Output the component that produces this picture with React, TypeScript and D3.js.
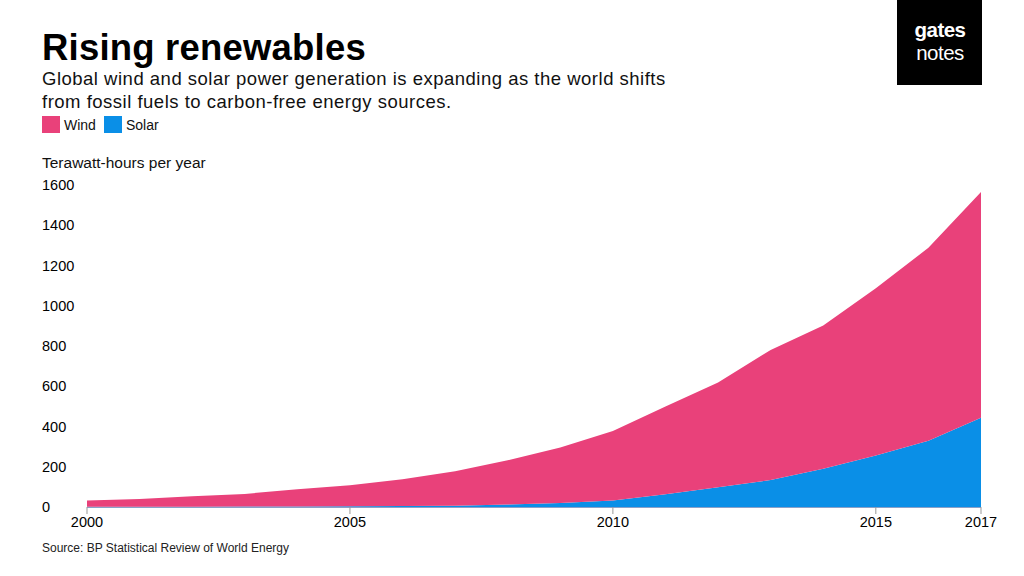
import React from "react";
import * as d3 from "d3";

const years = [2000, 2001, 2002, 2003, 2004, 2005, 2006, 2007, 2008, 2009, 2010, 2011, 2012, 2013, 2014, 2015, 2016, 2017];
const wind = [31, 38, 52, 63, 85, 104, 133, 171, 220, 276, 346, 437, 521, 646, 712, 831, 959, 1122];
const solar = [1, 1.3, 1.7, 2.2, 2.8, 3.7, 5, 6.8, 12, 20, 32, 63, 98, 134, 190, 256, 329, 443];
const yTicks = [0, 200, 400, 600, 800, 1000, 1200, 1400, 1600];
const xTicks = [2000, 2005, 2010, 2015, 2017];
const seriesNames = ["Wind", "Solar"];

const W = 1024;
const H = 576;
const FONT = "'Liberation Sans', Arial, Helvetica, sans-serif";
const PINK = "#E9417A";
const BLUE = "#0A8FE7";

export default function App() {
  const x = d3.scaleLinear().domain([2000, 2017]).range([87, 981]);
  const y = d3.scaleLinear().domain([0, 1600]).range([507, 185]);

  const rows = years.map((yr, i) => ({ year: yr, Solar: solar[i], Wind: wind[i] }));
  const stack = d3.stack<any>().keys(["Solar", "Wind"]);
  const layers = stack(rows);
  const area = d3
    .area<any>()
    .x((d) => x(d.data.year))
    .y0((d) => y(d[0]))
    .y1((d) => y(d[1]));

  const colorFor: Record<string, string> = { Wind: PINK, Solar: BLUE };

  return (
    <svg
      width={W}
      height={H}
      style={{ position: "absolute", left: 0, top: 0, background: "#fff" }}
      fontFamily={FONT}
    >
      <rect x={0} y={0} width={W} height={H} fill="#fff" />
      {/* Title */}
      <text x={42} y={60} fontSize={36.5} fontWeight="bold" fill="#000" letterSpacing={0.2}>
        Rising renewables
      </text>
      <text x={42} y={85} fontSize={18.5} fill="#111" letterSpacing={0.5}>
        Global wind and solar power generation is expanding as the world shifts
      </text>
      <text x={42} y={108} fontSize={18.5} fill="#111" letterSpacing={0.5}>
        from fossil fuels to carbon-free energy sources.
      </text>

      {/* Legend */}
      {seriesNames.map((name, i) => {
        const lx = i === 0 ? 42 : 104;
        return (
          <g key={name}>
            <rect x={lx} y={116} width={18} height={17} fill={colorFor[name]} />
            <text x={lx + 22} y={130} fontSize={14} fill="#111">
              {name}
            </text>
          </g>
        );
      })}

      {/* Y axis title */}
      <text x={42} y={168} fontSize={15.5} fill="#111">
        Terawatt-hours per year
      </text>

      {/* Y tick labels */}
      {yTicks.map((t) => (
        <text key={t} x={42} y={y(t)} dy="0.35em" fontSize={14.5} fill="#000">
          {t}
        </text>
      ))}

      {/* Areas */}
      {layers.map((layer) => (
        <path key={layer.key} d={area(layer) || ""} fill={colorFor[layer.key]} />
      ))}

      {/* X axis */}
      <line x1={x(2000)} x2={x(2017)} y1={507.5} y2={507.5} stroke="#8aa0c8" strokeWidth={1} />
      {xTicks.map((t) => (
        <g key={t}>
          <line x1={x(t)} x2={x(t)} y1={507} y2={514} stroke="#999" strokeWidth={1} />
          <text x={x(t)} y={527} textAnchor="middle" fontSize={14.5} fill="#000">
            {t}
          </text>
        </g>
      ))}

      {/* Source */}
      <text x={42} y={552} fontSize={12} fill="#222">
        Source: BP Statistical Review of World Energy
      </text>

      {/* Logo */}
      <rect x={897} y={0} width={85} height={85} fill="#000" />
      <text x={940} y={37} textAnchor="middle" fontSize={20.5} fontWeight="bold" fill="#fff" letterSpacing={-0.5}>
        gates
      </text>
      <text x={940} y={60} textAnchor="middle" fontSize={20.5} fill="#fff" letterSpacing={-0.5}>
        notes
      </text>
    </svg>
  );
}
